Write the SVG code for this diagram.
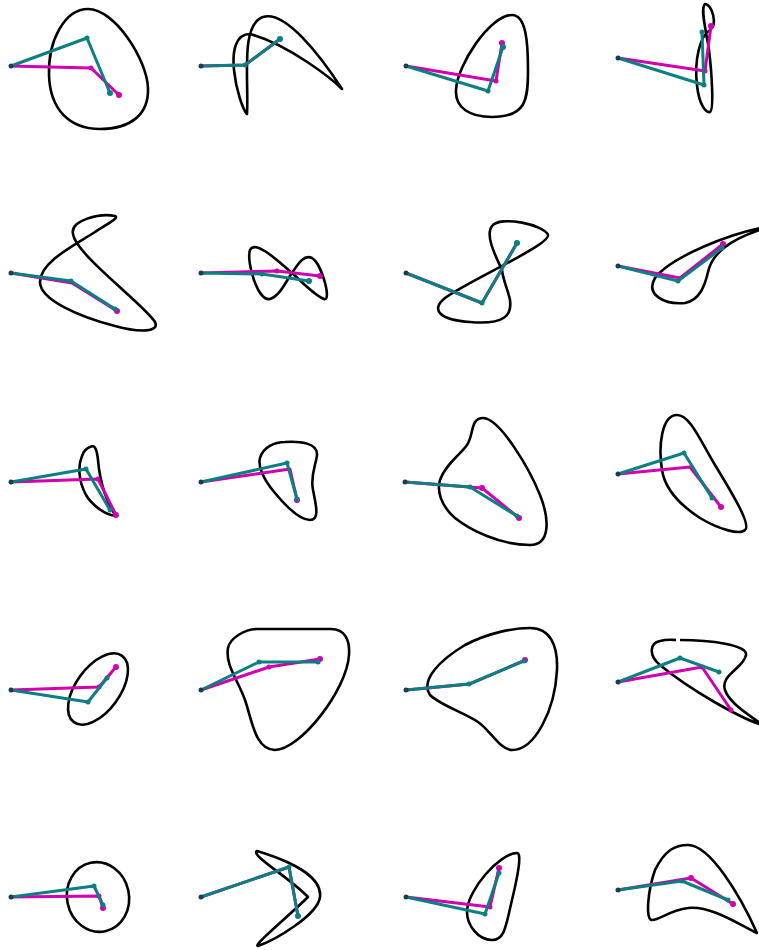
<svg xmlns="http://www.w3.org/2000/svg" width="759" height="950" viewBox="0 0 759 950">
<style>
.c{fill:none;stroke:#000;stroke-width:2.6;stroke-linejoin:round}
.m{fill:none;stroke:#d100b0;stroke-width:3;stroke-linejoin:round}
.t{fill:none;stroke:#0c7f80;stroke-width:3;stroke-linejoin:round}
.md{fill:#d100b0}
.td{fill:#0c7f80}
.b{fill:#1d3d4d}
</style>
<rect width="759" height="950" fill="#fff"/>
<g id="p00">
<path class="c" d="M88,9 C65,9 48,40 49,75 C50,110 70,129 100,129 C130,129 149,115 148,88 C147,60 115,9 88,9 Z"/>
<path class="m" d="M11,66 L91,68 L119,95"/><circle class="md" cx="91" cy="68" r="2.5"/><circle class="md" cx="119" cy="95" r="3"/>
<path class="t" d="M11,66 L87,38 L110,93"/><circle class="td" cx="87" cy="38" r="2.5"/><circle class="td" cx="110" cy="93" r="3"/>
<circle class="b" cx="11" cy="66" r="2.5"/>
</g>
<g id="p01">
<path class="c" d="M247,114 C249,80 240,25 263,17 C285,10 320,55 342,89 C333,80 290,45 250,34 C236,34 232,50 234,70 C236,90 243,110 247,114 Z"/>
<path class="m" d="M201,66 L245,65 L280,39"/>
<path class="t" d="M201,66 L245,65 L280,39"/><circle class="td" cx="245" cy="65" r="2.5"/><circle class="td" cx="280" cy="39" r="3"/>
<circle class="b" cx="201" cy="66" r="2.5"/>
</g>
<g id="p02">
<path class="c" d="M512,15 C526,15 528,42 528,70 C528,100 526,117 492,117 C470,117 455,108 456,90 C457,65 490,15 512,15 Z"/>
<path class="m" d="M406,66 L496,81 L502,43"/><circle class="md" cx="496" cy="81" r="2.5"/><circle class="md" cx="502" cy="43" r="3"/>
<path class="t" d="M406,66 L488,91 L503,47"/><circle class="td" cx="488" cy="91" r="2.5"/><circle class="td" cx="503" cy="47" r="3"/>
<circle class="b" cx="406" cy="66" r="2.5"/>
</g>
<g id="p03">
<path class="c" d="M705,4 C712,4 718,25 710,30 C700,36 694,60 697,85 C699,105 706,113 710,112 C714,110 712,75 709,50 C706,30 700,8 705,4 Z"/>
<path class="m" d="M618,58 L705,71 L711,26"/><circle class="md" cx="705" cy="71" r="2.5"/><circle class="md" cx="711" cy="26" r="3"/>
<path class="t" d="M618,58 L704,85 L702,32"/><circle class="td" cx="704" cy="85" r="2.5"/><circle class="td" cx="702" cy="32" r="2.5"/>
<circle class="b" cx="618" cy="58" r="2.5"/>
</g>
<g id="p10">
<path class="c" d="M115,216 C100,213 70,220 73,234 C76,255 145,305 155,322 C160,332 140,333 115,326 C80,317 40,300 40,282 C40,262 75,245 95,232 C105,225 120,218 115,216 Z"/>
<path class="m" d="M11,273 L72,283 L117,311"/><circle class="md" cx="117" cy="311" r="3"/>
<path class="t" d="M11,273 L71,281 L115,309"/><circle class="td" cx="71" cy="281" r="2.5"/><circle class="td" cx="115" cy="309" r="2.5"/>
<circle class="b" cx="11" cy="273" r="2.5"/>
</g>
<g id="p11">
<path class="c" d="M292,273 C275,258 255,240 250,250 C246,262 258,302 270,299 C280,296 286,281 292,273 C298,264 304,254 312,258 C322,264 332,302 324,299 C315,296 302,282 292,273 Z"/>
<path class="m" d="M201,273 L277,271 L320,276"/><circle class="md" cx="277" cy="271" r="2.5"/><circle class="md" cx="320" cy="276" r="3"/>
<path class="t" d="M201,273 L262,274 L309,281"/><circle class="td" cx="262" cy="274" r="2.5"/><circle class="td" cx="309" cy="281" r="3"/>
<circle class="b" cx="201" cy="273" r="2.5"/>
</g>
<g id="p12">
<path class="c" d="M502,270 C495,255 485,235 492,226 C500,215 545,225 548,235 C550,245 470,280 445,298 C430,310 440,320 470,322 C505,325 512,315 510,300 C508,290 503,280 502,270 Z"/>
<path class="m" d="M406,273 L482,303 L517,243"/>
<path class="t" d="M406,273 L482,303 L517,243"/><circle class="td" cx="482" cy="303" r="2.5"/><circle class="td" cx="517" cy="243" r="3"/>
<circle class="b" cx="406" cy="273" r="2.5"/>
</g>
<g id="p13">
<path class="c" d="M772,226 C730,232 670,258 655,278 C645,295 665,305 685,303 C700,300 705,285 708,272 C712,255 725,240 772,226 Z"/>
<path class="m" d="M618,266 L680,278 L723,244"/><circle class="md" cx="723" cy="244" r="3"/>
<path class="t" d="M618,266 L678,281 L722,248"/><circle class="td" cx="678" cy="281" r="2.5"/><circle class="td" cx="722" cy="248" r="2.5"/>
<circle class="b" cx="618" cy="266" r="2.5"/>
</g>
<g id="p20">
<path class="c" d="M90,447 C95,444 97,450 98,460 C100,485 108,505 116,516 C105,515 92,505 86,495 C78,480 78,465 82,456 C84,450 87,448 90,447 Z"/>
<path class="m" d="M11,482 L98,479 L116,515"/><circle class="md" cx="98" cy="479" r="2.5"/><circle class="md" cx="116" cy="515" r="3"/>
<path class="t" d="M11,482 L86,469 L110,510"/><circle class="td" cx="86" cy="469" r="2.5"/><circle class="td" cx="110" cy="510" r="2.5"/>
<circle class="b" cx="11" cy="482" r="2.5"/>
</g>
<g id="p21">
<path class="c" d="M285,442 C300,441 318,443 317,455 C316,465 310,475 313,490 C316,505 320,520 310,520 C300,520 285,505 275,493 C262,478 258,465 260,458 C263,447 275,442 285,442 Z"/>
<path class="m" d="M201,482 L290,469 L297,500"/><circle class="md" cx="297" cy="500" r="3"/>
<path class="t" d="M201,482 L287,463 L297,499"/><circle class="td" cx="287" cy="463" r="2.5"/><circle class="td" cx="297" cy="499" r="2.5"/>
<circle class="b" cx="201" cy="482" r="2.5"/>
</g>
<g id="p22">
<path class="c" d="M483,418 C500,418 530,470 540,495 C550,520 550,545 530,545 C500,545 470,530 455,518 C440,505 437,490 440,480 C445,465 460,455 467,445 C474,435 470,418 483,418 Z"/>
<path class="m" d="M405,482 L482,488 L519,518"/><circle class="md" cx="482" cy="488" r="3"/><circle class="md" cx="519" cy="518" r="3"/>
<path class="t" d="M405,482 L470,487 L517,516"/><circle class="td" cx="470" cy="487" r="2.5"/><circle class="td" cx="517" cy="516" r="2.5"/>
<circle class="b" cx="405" cy="482" r="2.5"/>
</g>
<g id="p23">
<path class="c" d="M677,415 C690,415 700,440 715,465 C730,490 752,525 745,530 C740,535 720,530 700,518 C680,505 665,490 662,470 C658,445 662,415 677,415 Z"/>
<path class="m" d="M618,474 L690,467 L721,507"/><circle class="md" cx="721" cy="507" r="3"/>
<path class="t" d="M618,474 L684,453 L712,498"/><circle class="td" cx="684" cy="453" r="2.5"/><circle class="td" cx="712" cy="498" r="2.5"/>
<circle class="b" cx="618" cy="474" r="2.5"/>
</g>
<g id="p30">
<ellipse class="c" cx="98" cy="689" rx="22" ry="41" transform="rotate(36 98 689)"/>
<path class="m" d="M11,690 L99,687 L116,667"/><circle class="md" cx="99" cy="687" r="2.5"/><circle class="md" cx="116" cy="667" r="3"/>
<path class="t" d="M11,690 L88,702 L107,678"/><circle class="td" cx="88" cy="702" r="2.5"/><circle class="td" cx="107" cy="678" r="2.5"/>
<circle class="b" cx="11" cy="690" r="2.5"/>
</g>
<g id="p31">
<path class="c" d="M257,629 L331,629 C345,629 350,640 349,655 C347,690 300,750 275,750 C255,750 252,720 245,700 C238,680 225,665 228,648 C230,638 245,629 257,629 Z"/>
<path class="m" d="M201,690 L269,667 L320,659"/><circle class="md" cx="269" cy="667" r="2.5"/><circle class="md" cx="320" cy="659" r="3"/>
<path class="t" d="M201,690 L259,662 L318,662"/><circle class="td" cx="259" cy="662" r="2.5"/><circle class="td" cx="318" cy="662" r="2.5"/>
<circle class="b" cx="201" cy="690" r="2.5"/>
</g>
<g id="p32">
<path class="c" d="M530,628 C550,628 558,645 557,670 C555,710 535,750 512,750 C500,750 490,730 478,722 C465,713 440,705 430,695 C420,680 440,660 465,645 C490,632 515,628 530,628 Z"/>
<path class="m" d="M406,690 L470,684 L525,660"/><circle class="md" cx="525" cy="660" r="3"/>
<path class="t" d="M406,690 L469,684 L524,661"/><circle class="td" cx="469" cy="684" r="2.5"/><circle class="td" cx="524" cy="661" r="2.5"/>
<circle class="b" cx="406" cy="690" r="2.5"/>
</g>
<g id="p33">
<path class="c" d="M680,640 C710,640 748,645 746,655 C744,668 720,675 725,690 C730,705 755,718 762,725 C740,718 690,690 660,665 C648,655 650,643 660,641 C668,639 673,640 676,640"/>
<path class="m" d="M618,682 L702,667 L731,710"/><circle class="md" cx="702" cy="667" r="2.5"/><circle class="md" cx="731" cy="710" r="2.5"/>
<path class="t" d="M618,682 L680,658 L719,672"/><circle class="td" cx="680" cy="658" r="2.5"/><circle class="td" cx="719" cy="672" r="2.5"/>
<circle class="b" cx="618" cy="682" r="2.5"/>
</g>
<g id="p40">
<ellipse class="c" cx="98" cy="897" rx="31" ry="35" transform="rotate(-12 98 897)"/>
<path class="m" d="M11,897 L99,896 L103,908"/><circle class="md" cx="99" cy="896" r="2.5"/><circle class="md" cx="103" cy="908" r="3"/>
<path class="t" d="M11,897 L94,886 L103,905"/><circle class="td" cx="94" cy="886" r="2.5"/><circle class="td" cx="103" cy="905" r="2.5"/>
<circle class="b" cx="11" cy="897" r="2.5"/>
</g>
<g id="p41">
<path class="c" d="M257,851 C300,864 322,880 320,897 C318,915 275,940 258,946 C252,946 290,915 308,897 C290,878 250,855 257,851 Z"/>
<path class="m" d="M201,897 L289,867 L298,916"/>
<path class="t" d="M201,897 L289,867 L298,916"/><circle class="td" cx="289" cy="867" r="2.5"/><circle class="td" cx="298" cy="916" r="3"/>
<circle class="b" cx="201" cy="897" r="2.5"/>
</g>
<g id="p42">
<path class="c" d="M517,853 C522,853 518,875 512,900 C506,925 505,940 492,940 C478,940 467,925 467,912 C467,890 500,853 517,853 Z"/>
<path class="m" d="M406,897 L490,907 L499,868"/><circle class="md" cx="490" cy="907" r="2.5"/><circle class="md" cx="499" cy="868" r="3"/>
<path class="t" d="M406,897 L485,914 L499,873"/><circle class="td" cx="485" cy="914" r="2.5"/><circle class="td" cx="499" cy="873" r="2.5"/>
<circle class="b" cx="406" cy="897" r="2.5"/>
</g>
<g id="p43">
<path class="c" d="M688,845 C710,845 740,895 757,933 C740,925 710,905 688,908 C670,910 660,920 652,920 C645,920 648,890 655,870 C665,850 675,845 688,845 Z"/>
<path class="m" d="M618,890 L691,878 L733,904"/><circle class="md" cx="691" cy="878" r="3"/><circle class="md" cx="733" cy="904" r="3"/>
<path class="t" d="M618,890 L682,881 L728,900"/><circle class="td" cx="682" cy="881" r="2.5"/><circle class="td" cx="728" cy="900" r="2.5"/>
<circle class="b" cx="618" cy="890" r="2.5"/>
</g>
</svg>
